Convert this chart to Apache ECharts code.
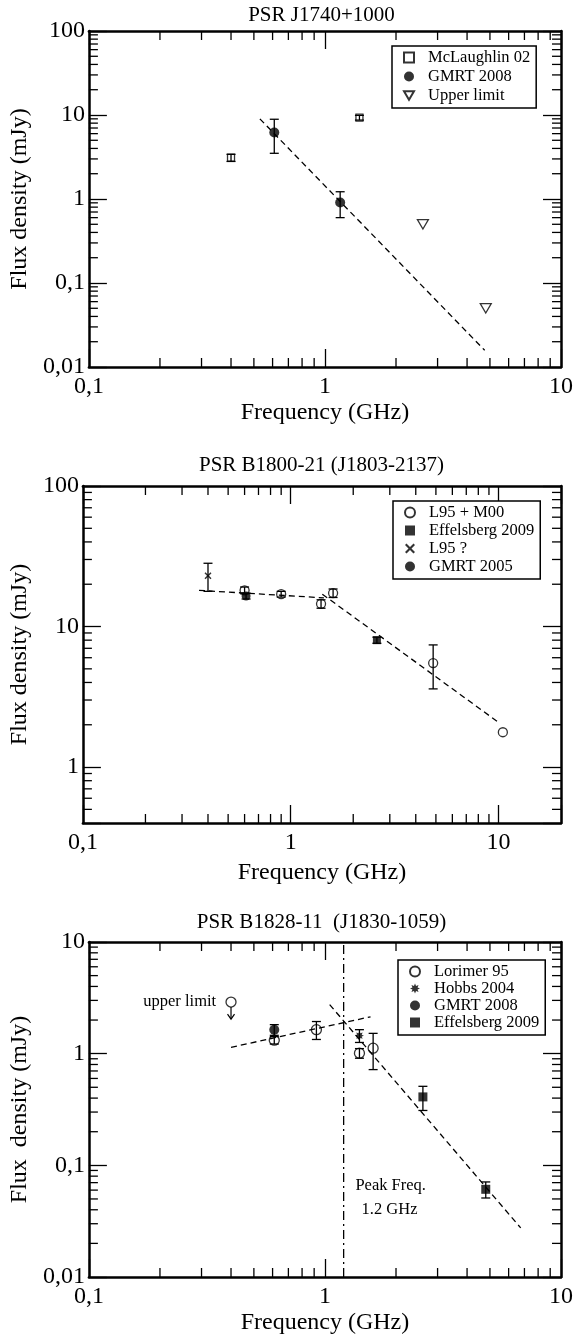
<!DOCTYPE html>
<html>
<head>
<meta charset="utf-8">
<script src="https://cdn.jsdelivr.net/npm/echarts@6/dist/echarts.min.js"></script>
<style>
html, body { margin: 0; padding: 0; background: #fff; }
#chart { width: 579px; height: 1344px; }
</style>
</head>
<body>
<div id="chart"></div>
<script>
// panel 1 : PSR J1740+1000
var mcl02Freq = [0.40, 1.40];
var mcl02Flux = [3.1, 9.3];
var mcl02Err = [0.3, 0.6];
var gmrt08aFreq = [0.61, 1.16];
var gmrt08aFlux = [6.2, 0.91];
var gmrt08aErr = [2.7, 0.31];
var ulim1Freq = [2.6, 4.8];
var ulim1Flux = [0.5, 0.05];
var fit1Freq = [0.53, 4.75];
var fit1Flux = [9.0, 0.0158];

// panel 2 : PSR B1800-21
var l95Freq = [0.60, 0.90, 1.40, 1.60, 4.85, 10.5];
var l95Flux = [18.1, 17.0, 14.5, 17.3, 5.5, 1.77];
var l95Err = [1.0, 0.8, 1.0, 1.2, 1.9, 0];
var eff2Freq = [2.6];
var eff2Flux = [8.0];
var eff2Err = [0.4];
var l95qFreq = [0.40];
var l95qFlux = [23];
var l95qErr = [5.2];
var gmrt05Freq = [0.61];
var gmrt05Flux = [16.5];
var gmrt05Err = [0.8];
var fit2aFreq = [0.362, 1.445];
var fit2aFlux = [18.1, 16.0];
var fit2bFreq = [1.42, 10.1];
var fit2bFlux = [17.0, 2.06];

// panel 3 : PSR B1828-11
var lorFreq = [0.61, 0.92, 1.40, 1.60];
var lorFlux = [1.32, 1.64, 1.01, 1.12];
var lorErr = [0.1, 0.3, 0.1, 0.4];
var hobbsFreq = [1.40];
var hobbsFlux = [1.45];
var hobbsErr = [0.19];
var gmrt08bFreq = [0.61];
var gmrt08bFlux = [1.64];
var gmrt08bErr = [0.18];
var eff3Freq = [2.6, 4.8];
var eff3Flux = [0.41, 0.061];
var eff3Err = [0.10, 0.01];
var ulim3Freq = [0.40];
var ulim3Flux = [2.9];
var ulim3Tip = [2.04];
var fit3aFreq = [0.40, 1.56];
var fit3aFlux = [1.14, 2.14];
var fit3bFreq = [1.047, 6.75];
var fit3bFlux = [2.75, 0.0275];
var peakFreq = 1.2;
// text notes in panel 3
var noteText = ['Peak Freq.', '1.2 GHz', 'upper limit'];
var noteFreq = [1.346, 1.43, 0.346];
var noteFlux = [0.0658, 0.0401, 2.9];
var noteAlign = ['left', 'left', 'right'];

var titles = ['PSR J1740+1000', 'PSR B1800-21 (J1803-2137)', 'PSR B1828-11  (J1830-1059)'];
var yNames = ['Flux density (mJy)', 'Flux density (mJy)', 'Flux  density (mJy)'];
var xRanges = [[0.1, 10], [0.1, 20], [0.1, 10]];
var yRanges = [[0.01, 100], [0.4, 100], [0.01, 10]];

var FONT = 'Liberation Serif';
var grids = [
  { left: 82, top: 31, width: 479, height: 336 },
  { left: 82, top: 486, width: 479, height: 337 },
  { left: 82, top: 942, width: 479, height: 335 }
];
var xNameGaps = [34, 38, 34];
var titleY = [15.5, 465, 922];

function zip(a, b) {
  return a.map(function (v, i) { return [v, b[i]]; });
}
function zip3(a, b, c) {
  var out = [];
  a.forEach(function (v, i) { if (c[i] > 0) out.push([v, b[i], c[i]]); });
  return out;
}
function fmt(v) {
  var e = Math.log10(v);
  if (Math.abs(e - Math.round(e)) > 1e-6) return '';
  return String(+v.toPrecision(6)).replace('.', ',');
}
function minorTicks(xr, yr) {
  var out = [], e, m, v;
  for (e = Math.floor(Math.log10(xr[0])); e <= Math.ceil(Math.log10(xr[1])); e++)
    for (m = 2; m <= 9; m++) { v = m * Math.pow(10, e); if (v > xr[0] * 1.0001 && v < xr[1] * 0.9999) out.push([v, yr[0], 0]); }
  for (e = Math.floor(Math.log10(yr[0])); e <= Math.ceil(Math.log10(yr[1])); e++)
    for (m = 2; m <= 9; m++) { v = m * Math.pow(10, e); if (v > yr[0] * 1.0001 && v < yr[1] * 0.9999) out.push([xr[0], v, 1]); }
  return out;
}

var tickStyle = { stroke: '#000', lineWidth: 1.3 };
function tickRender(params, api) {
  var cs = params.coordSys, L = 9;
  var p = api.coord([api.value(0), api.value(1)]);
  if (api.value(2) === 0) {
    return { type: 'group', children: [
      { type: 'line', shape: { x1: p[0], y1: cs.y + cs.height, x2: p[0], y2: cs.y + cs.height - L }, style: tickStyle },
      { type: 'line', shape: { x1: p[0], y1: cs.y, x2: p[0], y2: cs.y + L }, style: tickStyle }
    ] };
  }
  return { type: 'group', children: [
    { type: 'line', shape: { x1: cs.x, y1: p[1], x2: cs.x + L, y2: p[1] }, style: tickStyle },
    { type: 'line', shape: { x1: cs.x + cs.width, y1: p[1], x2: cs.x + cs.width - L, y2: p[1] }, style: tickStyle }
  ] };
}
function errRender(params, api) {
  var x = api.value(0), y = api.value(1), e = api.value(2);
  var hi = api.coord([x, y + e]), lo = api.coord([x, y - e]);
  var w = 4.5, st = { stroke: '#000', lineWidth: 1.3 };
  return { type: 'group', children: [
    { type: 'line', shape: { x1: hi[0], y1: hi[1], x2: lo[0], y2: lo[1] }, style: st },
    { type: 'line', shape: { x1: hi[0] - w, y1: hi[1], x2: hi[0] + w, y2: hi[1] }, style: st },
    { type: 'line', shape: { x1: lo[0] - w, y1: lo[1], x2: lo[0] + w, y2: lo[1] }, style: st }
  ] };
}
function arrowRender(params, api) {
  var c = api.coord([api.value(0), api.value(1)]);
  var t = api.coord([api.value(0), api.value(2)]);
  var st = { stroke: '#000', lineWidth: 1.2, fill: null };
  return { type: 'group', children: [
    { type: 'line', shape: { x1: c[0], y1: c[1] + 5, x2: t[0], y2: t[1] }, style: st },
    { type: 'polyline', shape: { points: [[t[0] - 3.5, t[1] - 5], [t[0], t[1]], [t[0] + 3.5, t[1] - 5]] }, style: st }
  ] };
}
function noteRender(params, api) {
  var i = params.dataIndex;
  var p = api.coord([api.value(0), api.value(1)]);
  return { type: 'text', x: p[0], y: p[1], style: { text: noteText[i], fill: '#000',
    font: '16.5px "Liberation Serif"', align: noteAlign[i], verticalAlign: 'middle' } };
}

var xAxes = [], yAxes = [];
grids.forEach(function (g, i) {
  var line = { show: true, onZero: false, lineStyle: { color: '#000', width: 2.5 } };
  var tick = { show: true, inside: true, length: 18, lineStyle: { color: '#000', width: 1.3 } };
  xAxes.push({
    type: 'log', gridIndex: i, min: xRanges[i][0], max: xRanges[i][1], position: 'bottom',
    name: 'Frequency (GHz)', nameLocation: 'middle', nameGap: xNameGaps[i],
    nameTextStyle: { fontSize: 24, color: '#000', fontFamily: FONT },
    axisLine: line, axisTick: tick, splitLine: { show: false },
    axisLabel: { margin: 8, fontSize: 24, color: '#000', fontFamily: FONT, formatter: fmt }
  });
  xAxes.push({
    type: 'log', gridIndex: i, min: xRanges[i][0], max: xRanges[i][1], position: 'top',
    axisLine: line, axisTick: tick, splitLine: { show: false }, axisLabel: { show: false }
  });
  yAxes.push({
    type: 'log', gridIndex: i, min: yRanges[i][0], max: yRanges[i][1], position: 'left',
    name: yNames[i], nameLocation: 'middle', nameGap: 38,
    nameTextStyle: { fontSize: 24, color: '#000', fontFamily: FONT },
    axisLine: line, axisTick: tick, splitLine: { show: false },
    axisLabel: { margin: 4, fontSize: 24, color: '#000', fontFamily: FONT, formatter: fmt }
  });
  yAxes.push({
    type: 'log', gridIndex: i, min: yRanges[i][0], max: yRanges[i][1], position: 'right',
    axisLine: line, axisTick: tick, splitLine: { show: false }, axisLabel: { show: false }
  });
});

var openStyle = { color: 'rgba(255,255,255,0)', borderColor: '#000', borderWidth: 1.3 };
var fillStyle = { color: '#000' };
var starPath = 'path://M10,0L12.1,4.92L17.07,2.93L15.08,7.9L20,10L15.08,12.1L17.07,17.07L12.1,15.08L10,20L7.9,15.08L2.93,17.07L4.92,12.1L0,10L4.92,7.9L2.93,2.93L7.9,4.92Z';
var crossPath = 'path://M3,0L10,7L17,0L20,3L13,10L20,17L17,20L10,13L3,20L0,17L7,10L0,3Z';
var downTriPath = 'path://M0,0L20,0L10,17.3Z';

function sc(name, gi, data, symbol, size, style) {
  return { name: name, type: 'scatter', xAxisIndex: gi * 2, yAxisIndex: gi * 2, data: data,
    symbol: symbol, symbolSize: size, symbolKeepAspect: true, itemStyle: style, z: 3 };
}
function fit(gi, fx, fy, dash) {
  return { type: 'line', xAxisIndex: gi * 2, yAxisIndex: gi * 2, data: zip(fx, fy), symbol: 'none',
    lineStyle: { color: '#000', width: 1.3, type: dash || [6, 4] }, z: 2, silent: true };
}
function errs(gi, data) {
  return { type: 'custom', xAxisIndex: gi * 2, yAxisIndex: gi * 2, data: data, renderItem: errRender, z: 4, silent: true };
}

var series = [];
grids.forEach(function (g, i) {
  series.push({ type: 'custom', xAxisIndex: i * 2, yAxisIndex: i * 2, data: minorTicks(xRanges[i], yRanges[i]),
    renderItem: tickRender, silent: true, z: 5 });
});
// panel 1
series.push(fit(0, fit1Freq, fit1Flux));
series.push(sc('McLaughlin 02', 0, zip(mcl02Freq, mcl02Flux), 'rect', 7, openStyle));
series.push(sc('GMRT 2008', 0, zip(gmrt08aFreq, gmrt08aFlux), 'circle', 10, fillStyle));
series.push(sc('Upper limit', 0, zip(ulim1Freq, ulim1Flux), downTriPath, 11, openStyle));
series.push(errs(0, zip3(mcl02Freq, mcl02Flux, mcl02Err).concat(zip3(gmrt08aFreq, gmrt08aFlux, gmrt08aErr))));
// panel 2
series.push(fit(1, fit2aFreq, fit2aFlux));
series.push(fit(1, fit2bFreq, fit2bFlux));
series.push(sc('L95 + M00', 1, zip(l95Freq, l95Flux), 'circle', 9, openStyle));
series.push(sc('Effelsberg 2009', 1, zip(eff2Freq, eff2Flux), 'rect', 8, fillStyle));
series.push(sc('L95 ?', 1, zip(l95qFreq, l95qFlux), crossPath, 7, fillStyle));
series.push(sc('GMRT 2005', 1, zip(gmrt05Freq, gmrt05Flux), 'circle', 9, fillStyle));
series.push(errs(1, zip3(l95Freq, l95Flux, l95Err).concat(zip3(eff2Freq, eff2Flux, eff2Err),
  zip3(l95qFreq, l95qFlux, l95qErr), zip3(gmrt05Freq, gmrt05Flux, gmrt05Err))));
// panel 3
series.push(fit(2, fit3aFreq, fit3aFlux));
series.push(fit(2, fit3bFreq, fit3bFlux));
series.push(fit(2, [peakFreq, peakFreq], yRanges[2], [9, 4, 2, 4]));
series.push(sc('Lorimer 95', 2, zip(lorFreq, lorFlux), 'circle', 10, openStyle));
series.push(sc('Hobbs 2004', 2, zip(hobbsFreq, hobbsFlux), starPath, 9, fillStyle));
series.push(sc('GMRT 2008', 2, zip(gmrt08bFreq, gmrt08bFlux), 'circle', 10, fillStyle));
series.push(sc('Effelsberg 2009', 2, zip(eff3Freq, eff3Flux), 'rect', 9, fillStyle));
series.push(sc('ul3', 2, zip(ulim3Freq, ulim3Flux), 'circle', 10, openStyle));
series.push({ type: 'custom', xAxisIndex: 4, yAxisIndex: 4, renderItem: arrowRender, silent: true, z: 4,
  data: ulim3Freq.map(function (f, i) { return [f, ulim3Flux[i], ulim3Tip[i]]; }) });
series.push(errs(2, zip3(lorFreq, lorFlux, lorErr).concat(zip3(hobbsFreq, hobbsFlux, hobbsErr),
  zip3(gmrt08bFreq, gmrt08bFlux, gmrt08bErr), zip3(eff3Freq, eff3Flux, eff3Err))));
series.push({ type: 'custom', xAxisIndex: 4, yAxisIndex: 4, renderItem: noteRender, silent: true, z: 6,
  data: zip(noteFreq, noteFlux) });

function legendAt(names, left, top, gap) {
  return { data: names, left: left, top: top, orient: 'vertical', align: 'left', selectedMode: false,
    itemWidth: 10, itemHeight: 10, itemGap: gap, padding: [3, 6, 4, 11],
    borderColor: '#000', borderWidth: 1.5, backgroundColor: '#fff',
    textStyle: { fontSize: 16.5, color: '#000', fontFamily: FONT, padding: [0, 0, 0, 9] } };
}

var chart = echarts.init(document.getElementById('chart'), null, { renderer: 'canvas' });
chart.setOption({
  animation: false,
  backgroundColor: '#fff',
  textStyle: { fontFamily: FONT, color: '#000' },
  grid: grids,
  xAxis: xAxes,
  yAxis: yAxes,
  legend: [
    legendAt(['McLaughlin 02', 'GMRT 2008', 'Upper limit'], 392, 46, 2),
    legendAt(['L95 + M00', 'Effelsberg 2009', 'L95 ?', 'GMRT 2005'], 393, 501, 1),
    legendAt(['Lorimer 95', 'Hobbs 2004', 'GMRT 2008', 'Effelsberg 2009'], 398, 960, 0)
  ],
  graphic: titles.map(function (t, i) {
    return { type: 'text', x: 321.5, y: titleY[i], silent: true,
      style: { text: t, fill: '#000', font: '21px "Liberation Serif"', align: 'center', verticalAlign: 'middle' } };
  }),
  series: series
});
</script>
</body>
</html>
